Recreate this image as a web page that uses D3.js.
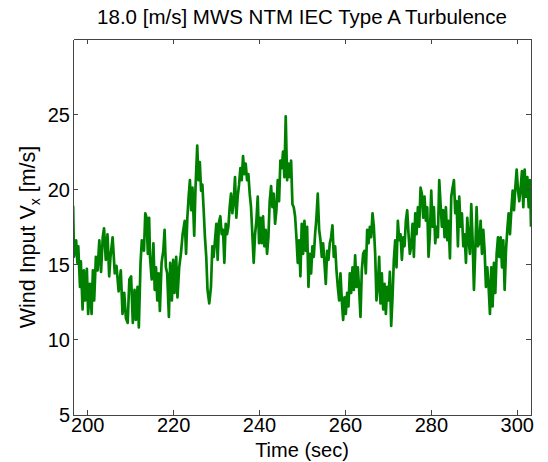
<!DOCTYPE html>
<html>
<head>
<meta charset="utf-8">
<script src="https://cdn.jsdelivr.net/npm/d3@7"></script>
<style>
  body { margin: 0; background: #fff; }
  svg text { font-family: "Liberation Sans", Arial, Helvetica, sans-serif; fill: #000; }
</style>
</head>
<body>
<svg id="chart" width="548" height="462"></svg>
<script>
const chartTitle = "18.0 [m/s] MWS NTM IEC Type A Turbulence"
const xTicks = [200, 220, 240, 260, 280, 300]
const yTicks = [5, 10, 15, 20, 25]

// time (sec)
const time = [196.7,196.9,197.4,197.7,197.9,198.3,198.5,198.9,199.2,199.5,199.9,200.2,200.6,201.0,201.3,201.6,202.0,202.4,202.8,203.2,
  203.6,203.9,204.3,204.7,205.1,205.4,205.9,206.4,206.8,207.3,207.8,208.2,208.6,209.0,209.4,209.8,210.2,210.6,211.0,211.3,
  211.7,212.0,212.4,212.7,213.2,213.5,213.8,214.1,214.4,214.6,215.0,215.4,215.7,216.0,216.3,216.6,216.9,217.3,217.7,218.0,
  218.3,218.6,219.0,219.3,219.7,220.0,220.3,220.7,221.0,221.4,221.8,222.2,222.7,223.0,223.3,223.6,223.9,224.2,224.5,224.9,
  225.2,225.6,225.9,226.2,226.5,226.8,227.1,227.4,227.7,228.0,228.4,228.8,229.12,229.43,229.74,230.05,230.36,230.67,230.98,231.29,
  231.61,231.92,232.23,232.54,232.85,233.16,233.47,233.78,234.09,234.40,234.71,235.02,235.34,235.65,235.96,236.27,236.58,236.89,237.20,237.51,
  237.82,238.13,238.44,238.75,239.07,239.38,239.69,240.00,240.31,240.62,240.93,241.24,241.55,241.86,242.17,242.48,242.80,243.11,243.42,243.73,
  244.04,244.35,244.66,244.97,245.28,245.59,245.90,246.21,246.53,246.84,247.15,247.46,247.77,248.08,248.39,248.70,249.01,249.32,249.63,249.94,
  250.26,250.57,250.88,251.19,251.50,251.81,252.12,252.43,252.74,253.05,253.36,253.67,253.99,254.30,254.61,254.92,255.23,255.54,255.85,256.16,
  256.47,256.78,257.09,257.40,257.72,258.03,258.34,258.65,258.96,259.27,259.58,259.89,260.20,260.51,260.82,261.13,261.45,261.76,262.07,262.38,
  262.69,263.00,263.31,263.62,263.93,264.24,264.55,264.86,265.18,265.49,265.80,266.11,266.42,266.73,267.04,267.35,267.66,267.97,268.28,268.59,
  268.91,269.22,269.53,269.84,270.15,270.46,270.77,271.08,271.39,271.70,272.01,272.32,272.64,272.95,273.26,273.57,273.88,274.19,274.50,274.81,
  275.12,275.43,275.74,276.05,276.37,276.68,276.99,277.30,277.61,277.92,278.23,278.54,278.85,279.16,279.47,279.78,280.10,280.41,280.72,281.03,
  281.34,281.65,281.96,282.27,282.58,282.89,283.20,283.51,283.83,284.14,284.45,284.76,285.07,285.38,285.69,286.00,286.31,286.62,286.93,287.24,
  287.56,287.87,288.18,288.49,288.80,289.11,289.42,289.73,290.04,290.35,290.66,290.97,291.29,291.60,291.91,292.22,292.53,292.84,293.15,293.46,
  293.77,294.08,294.39,294.70,295.02,295.33,295.64,295.95,296.26,296.57,296.88,297.19,297.50,297.81,298.12,298.43,298.75,299.06,299.37,299.68,
  299.99,300.30,300.61,300.92,301.23,301.54,301.85,302.16,302.48,302.79,303.10,303.33]

// wind speed Vx (m/s)
const windVx = [18.9,15.5,16.6,15.1,16.2,13.5,15.2,12.0,14.6,12.6,14.7,11.7,13.7,11.7,14.6,12.6,15.5,14.6,16.6,14.5,
  16.8,17.4,15.3,17.0,14.2,15.5,16.8,14.4,14.9,13.2,14.6,11.7,13.1,11.4,11.1,14.0,14.2,11.1,13.3,11.3,
  13.5,10.8,15.1,16.6,15.9,18.4,18.1,15.7,18.1,15.5,14.0,16.4,13.3,14.8,12.6,14.4,11.9,15.1,15.9,17.3,
  14.8,14.4,11.5,15.1,12.6,15.3,13.1,15.5,12.8,14.8,15.7,17.0,17.9,15.7,18.1,19.5,20.6,18.6,20.1,16.9,
  20.1,22.9,20.6,21.8,19.9,20.3,18.6,16.8,15.5,13.3,12.4,13.5,16.2,15.5,16.6,17.7,15.3,17.8,18.2,17.0,
  17.3,15.1,17.7,17.0,17.5,18.8,19.7,18.4,19.2,20.8,18.1,19.5,20.3,21.4,20.6,22.2,21.0,21.7,20.6,21.0,
  19.7,18.8,17.0,15.1,17.0,17.9,19.5,16.4,18.1,16.4,18.2,16.2,17.3,15.7,16.8,19.2,20.2,18.8,19.7,17.7,
  18.6,20.6,19.2,21.9,21.4,22.5,20.8,24.85,20.6,21.7,20.8,21.9,19.0,18.8,18.2,16.8,15.1,16.6,14.2,17.7,
  15.7,17.9,15.9,17.5,13.5,15.7,14.4,16.2,15.5,17.0,18.1,19.7,17.3,16.6,15.5,16.4,15.1,13.7,15.9,15.3,
  16.4,16.8,17.6,15.5,16.2,14.6,13.5,12.6,14.4,12.6,11.3,12.8,11.7,13.1,12.2,14.4,13.1,14.8,13.3,15.6,
  13.5,14.8,13.3,11.5,14.6,15.7,15.9,14.4,17.3,16.4,17.5,16.8,18.4,17.5,15.7,12.6,13.5,15.5,12.4,14.4,
  12.0,13.7,11.7,13.5,12.6,14.5,10.9,12.8,15.3,16.6,14.8,17.9,16.6,17.0,15.3,16.8,16.2,17.9,18.6,17.0,
  15.7,16.2,17.7,15.5,18.4,17.0,18.8,17.5,20.1,19.7,18.1,19.5,17.9,18.8,15.5,17.0,19.9,17.5,18.8,16.4,
  17.5,16.8,20.6,19.0,17.5,18.6,16.8,18.8,16.6,17.9,15.4,19.5,20.1,20.6,18.4,19.2,16.2,19.5,17.5,18.4,
  16.2,17.0,15.1,18.1,16.6,15.7,19.0,16.6,13.3,15.9,18.8,16.2,16.4,17.9,15.7,17.3,15.9,13.5,14.8,13.5,
  11.7,14.8,12.2,15.1,13.1,15.7,16.8,15.5,16.8,14.8,16.6,13.3,15.9,17.3,18.4,17.0,18.6,19.9,18.6,20.1,
  21.3,19.9,19.2,20.1,21.2,18.8,21.3,19.5,20.8,18.8,20.6,17.5]

const svg = d3.select("#chart"),
    margin = {top: 39, right: 17, bottom: 47.5, left: 73},
    width = +svg.attr("width") - margin.left - margin.right,
    height = +svg.attr("height") - margin.top - margin.bottom

const g = svg.append("g").attr("transform", "translate(" + margin.left + "," + margin.top + ")")

let x = d3.scaleLinear().domain([196.67, 303.33]).range([0, width]),
    y = d3.scaleLinear().domain([5, 30]).range([height, 0])

let points = time.map((t, i) => ({t: t, v: windVx[i]}))

let line = d3.line()
    .x(d => x(d.t))
    .y(d => y(d.v))

g.append("defs").append("clipPath").attr("id", "plotClip")
    .append("rect").attr("width", width).attr("height", height)

g.append("path")
    .datum(points)
    .attr("clip-path", "url(#plotClip)")
    .attr("d", line)
    .style("fill", "none")
    .style("stroke", "#008000")
    .style("stroke-width", 2.7)
    .style("stroke-linejoin", "round")

// axes, ticks pointing inward like matlab
const tickLen = 5
let xb = g.append("g").attr("transform", "translate(0," + height + ")")
    .call(d3.axisBottom(x).tickValues(xTicks).tickSizeInner(-tickLen).tickSizeOuter(0).tickPadding(3).tickFormat(d3.format("d")))
let xt = g.append("g")
    .call(d3.axisTop(x).tickValues(xTicks).tickSizeInner(-tickLen).tickSizeOuter(0).tickFormat(""))
let yl = g.append("g")
    .call(d3.axisLeft(y).tickValues(yTicks).tickSizeInner(-tickLen).tickSizeOuter(0).tickPadding(3).tickFormat(d3.format("d")))
let yr = g.append("g").attr("transform", "translate(" + width + ",0)")
    .call(d3.axisRight(y).tickValues(yTicks).tickSizeInner(-tickLen).tickSizeOuter(0).tickFormat(""))

g.selectAll(".domain, .tick line").style("stroke", "#444").style("shape-rendering", "crispEdges")
g.selectAll(".tick text").style("font-size", "20px")
yl.selectAll(".tick text").attr("dy", "0.36em")

// title
svg.append("text")
    .attr("x", margin.left + width / 2)
    .attr("y", 24)
    .attr("text-anchor", "middle")
    .style("font-size", "20.5px")
    .text(chartTitle)

svg.append("text")
    .attr("x", margin.left + width / 2)
    .attr("y", 457)
    .attr("text-anchor", "middle")
    .style("font-size", "20px")
    .text("Time (sec)")

let ylab = svg.append("text")
    .attr("transform", "translate(35,237) rotate(-90)")
    .attr("text-anchor", "middle")
    .style("font-size", "21.5px")
ylab.append("tspan").text("Wind Input V")
ylab.append("tspan").attr("dy", 5).style("font-size", "14px").text("x")
ylab.append("tspan").attr("dy", -5).text(" [m/s]")
</script>
</body>
</html>
